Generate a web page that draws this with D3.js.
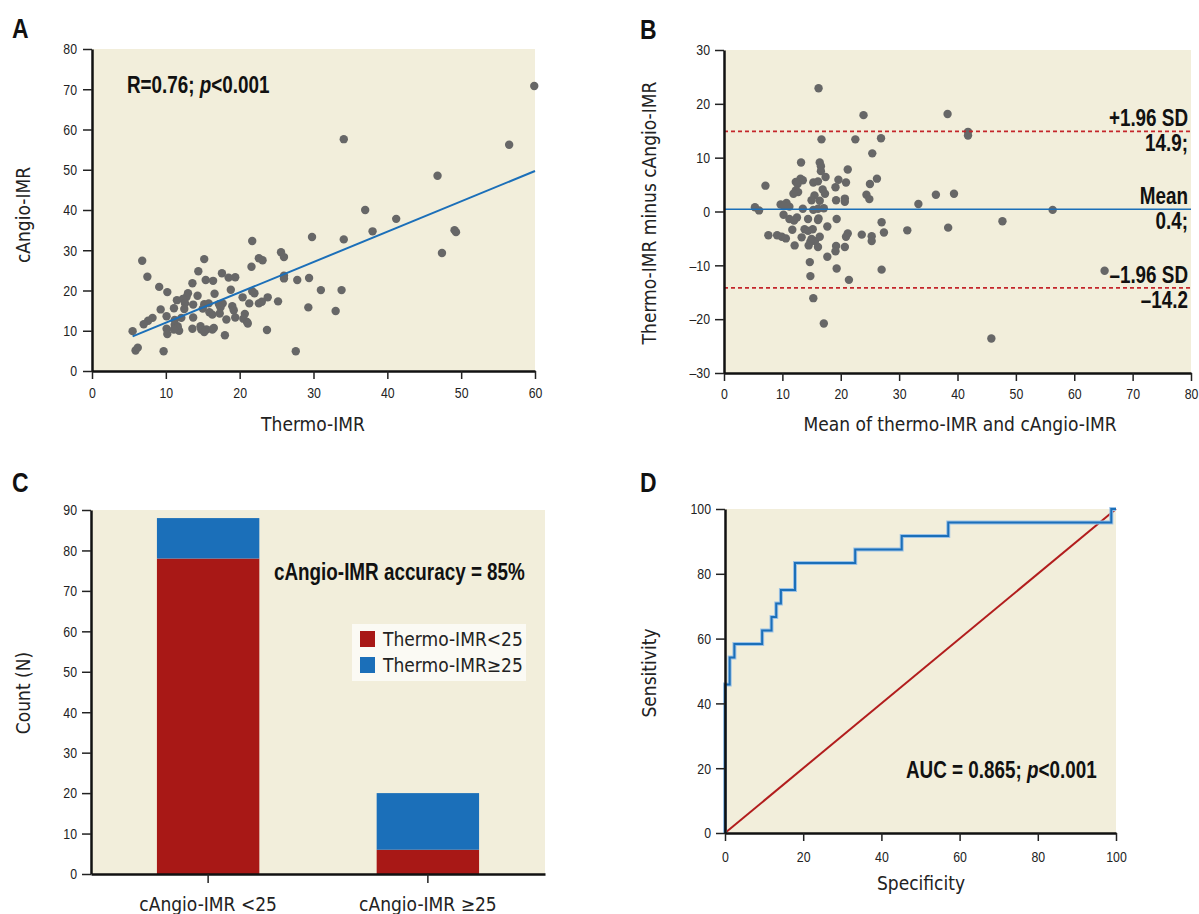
<!DOCTYPE html>
<html>
<head>
<meta charset="utf-8">
<script src="https://cdn.jsdelivr.net/npm/d3@7"></script>
<style>
  body { margin: 0; background: #fff; }
  .tick text { font-family: "Liberation Sans Narrow", "Liberation Sans", sans-serif; font-size: 15px; fill: #222; }
  .tick line { stroke: #222; stroke-width: 1.5; }
  .domain { stroke: #111; stroke-width: 2.5; }
  .lbl, .tick text.lbl { font-family: "DejaVu Sans Condensed", "DejaVu Sans", sans-serif; font-stretch: condensed; font-size: 19px; fill: #222; }
  .bold { font-family: "Liberation Sans", sans-serif; font-weight: bold; font-size: 23px; fill: #111; }
  .letter { font-family: "Liberation Sans", sans-serif; font-weight: bold; font-size: 28px; fill: #111; }
</style>
</head>
<body>
<div id="chart"></div>
<script>
// A: thermo-IMR vs cAngio-IMR
const scatterA = [[59.9,70.8],[34.1,57.6],[56.5,56.2],[46.8,48.5],[37.0,40.0],[41.2,37.8],[38.0,34.7],[49.1,35.0],[49.3,34.5],[29.8,33.3],[34.1,32.7],[21.7,32.3],[47.4,29.3],[25.6,29.5],[26.0,28.3],[22.6,28.0],[23.1,27.5],[6.8,27.4],[15.2,27.8],[21.6,25.9],[14.4,24.8],[7.5,23.4],[17.6,24.3],[18.5,23.2],[19.4,23.3],[26.0,23.7],[26.0,23.0],[27.8,22.6],[29.4,23.1],[15.4,22.6],[16.4,22.4],[13.6,21.8],[9.1,20.9],[18.8,20.2],[31.0,20.1],[33.8,20.1],[10.2,19.6],[21.7,19.8],[22.0,19.3],[13.0,19.3],[16.6,19.2],[14.3,18.7],[12.8,18.4],[20.4,18.3],[23.8,18.3],[11.5,17.6],[12.3,17.9],[25.2,17.3],[21.3,16.8],[22.6,16.8],[23.0,17.2],[15.2,16.6],[15.8,16.8],[17.2,16.6],[17.7,16.8],[12.6,16.8],[13.7,16.5],[19.0,16.1],[11.1,15.6],[9.3,15.3],[12.5,15.4],[15.0,15.5],[17.4,15.8],[19.2,15.1],[29.3,15.8],[33.0,14.9],[15.9,14.6],[17.3,14.3],[16.3,14.0],[20.7,14.2],[13.7,13.3],[10.1,13.6],[12.1,13.2],[19.4,13.3],[8.2,13.2],[7.6,12.5],[7.0,11.6],[20.5,13.0],[18.2,12.8],[21.0,12.2],[21.1,11.8],[11.2,12.7],[11.2,11.5],[11.6,11.1],[10.1,10.5],[13.6,10.5],[14.7,11.1],[14.8,10.3],[15.5,10.3],[15.2,9.7],[16.3,10.3],[16.5,10.7],[23.7,10.2],[5.5,9.9],[11.8,10.0],[11.6,10.7],[10.2,9.2],[18.0,8.9],[5.9,5.1],[6.2,5.8],[9.7,4.9],[27.6,4.9],[11.1,10.3]];
const fitA = { slope: 0.754, intercept: 4.45, from: 5.5, to: 60 };

// B: Bland-Altman
const scatterB = [[16.2,22.9],[23.9,17.9],[38.3,18.1],[41.8,14.8],[41.8,14.1],[16.7,13.4],[22.5,13.4],[26.9,13.6],[25.4,10.8],[13.2,9.1],[16.4,9.1],[16.6,8.4],[16.6,7.5],[21.2,7.8],[7.1,4.8],[17.4,6.4],[26.2,6.1],[19.6,5.9],[20.9,5.4],[15.3,5.4],[16.1,5.6],[12.3,5.5],[13.1,6.1],[13.5,5.8],[12.6,5.1],[25.0,5.1],[19.1,4.5],[16.9,4.1],[17.3,3.3],[12.3,3.9],[12.7,3.6],[11.9,3.3],[15.5,3.0],[24.4,3.1],[24.9,2.3],[36.3,3.1],[39.4,3.3],[15.0,2.1],[16.4,2.0],[19.2,2.1],[20.7,2.4],[20.7,1.8],[33.3,1.4],[9.7,1.3],[10.7,1.6],[11.2,0.9],[10.2,1.1],[13.5,0.5],[15.3,0.3],[17.1,0.6],[16.1,0.5],[5.3,0.8],[6.0,0.2],[56.3,0.3],[10.2,-0.6],[11.2,-1.4],[12.5,-1.1],[12.0,-1.7],[14.4,-1.4],[16.2,-1.3],[16.1,-1.6],[19.3,-1.4],[27.0,-2.0],[47.7,-1.8],[17.7,-2.8],[11.7,-3.4],[13.8,-3.3],[14.4,-3.6],[15.2,-3.3],[31.4,-3.5],[38.4,-3.0],[27.4,-3.9],[21.2,-4.1],[23.6,-4.3],[25.3,-4.6],[25.3,-5.5],[7.6,-4.4],[9.1,-4.4],[9.9,-4.7],[10.6,-5.0],[13.3,-4.8],[15.0,-5.1],[15.6,-5.5],[14.8,-5.6],[16.4,-4.7],[20.9,-4.7],[14.5,-6.3],[12.1,-6.3],[16.1,-6.6],[19.2,-6.4],[20.7,-6.6],[19.1,-7.4],[17.7,-8.4],[14.7,-9.4],[19.3,-10.6],[27.0,-10.8],[65.2,-11.0],[21.4,-12.7],[14.8,-12.0],[15.3,-16.1],[17.1,-20.8],[45.8,-23.6]];
const limitsB = [14.9, 0.4, -14.2];
const limitLabels = [["+1.96 SD", "14.9;"], ["Mean", "0.4;"], ["\u20131.96 SD", "\u201314.2"]];

// C: stacked counts
const groupsC = ["cAngio-IMR <25", "cAngio-IMR \u226525"];
const seriesC = ["Thermo-IMR<25", "Thermo-IMR\u226525"];
const lowThermo = [78, 6];
const highThermo = [10, 14];

// D: ROC
const rocSpec = [0, 0, 1.2, 2.4, 9.5, 11.9, 13.1, 14.3, 17.9, 33.3, 45.2, 57.1, 98.8, 100];
const rocSens = [0, 45.8, 54.2, 58.3, 62.5, 66.7, 70.8, 75.0, 83.3, 87.5, 91.7, 95.8, 100, 100];

const bg = "#f2eedb", dot = "#676767", blue = "#1b6fb9", red = "#a81816";
const squeeze = 0.82; // no narrow bold face installed

const svg = d3.select("#chart").append("svg")
  .attr("width", 1199).attr("height", 914);

function axes(g, x, y, xt, yt, o) {
  const fmt = d => d < 0 ? "\u2013" + Math.abs(d) : d;
  g.append("g").attr("transform", `translate(0,${y.range()[0]})`)
    .call(d3.axisBottom(x).tickValues(xt).tickSize(8).tickSizeOuter(0).tickPadding(o.xp).tickFormat(fmt));
  g.append("g").attr("transform", `translate(${x.range()[0]},0)`)
    .call(d3.axisLeft(y).tickValues(yt).tickSize(9).tickSizeOuter(0).tickPadding(o.yp).tickFormat(fmt));
}

function plotBg(g, x, y) {
  g.append("rect")
    .attr("x", x.range()[0]).attr("y", y.range()[1])
    .attr("width", x.range()[1] - x.range()[0]).attr("height", y.range()[0] - y.range()[1])
    .attr("fill", bg);
}

function text(g, cls, x, y, s, anchor, rot) {
  const t = g.append("text").attr("class", cls).attr("text-anchor", anchor || "start").text(s);
  if (rot) t.attr("transform", `translate(${x},${y}) rotate(-90)`);
  else if (cls !== "lbl") t.attr("transform", `translate(${x},${y}) scale(${squeeze},1)`);
  else t.attr("x", x).attr("y", y);
  return t;
}

function pText(g, x, y, pre) {
  const t = text(g, "bold", x, y, pre);
  t.append("tspan").attr("font-style", "italic").text("p");
  t.append("tspan").text("<0.001");
}

// ---- Panel A
{
  const g = svg.append("g");
  const x = d3.scaleLinear().domain([0, 60]).range([92, 535]);
  const y = d3.scaleLinear().domain([0, 80]).range([371, 49]);
  plotBg(g, x, y);
  g.selectAll("circle").data(scatterA).enter().append("circle")
    .attr("cx", d => x(d[0])).attr("cy", d => y(d[1])).attr("r", 4.2).attr("fill", dot);
  g.append("line")
    .attr("x1", x(fitA.from)).attr("y1", y(fitA.intercept + fitA.slope * fitA.from))
    .attr("x2", x(fitA.to)).attr("y2", y(fitA.intercept + fitA.slope * fitA.to))
    .attr("stroke", blue).attr("stroke-width", 2);
  axes(g, x, y, d3.range(0, 61, 10), d3.range(0, 81, 10), { xp: 8, yp: 6 });
  text(g, "letter", 12, 38, "A");
  pText(g, 127, 93, "R=0.76; ");
  text(g, "lbl", 313, 431, "Thermo-IMR", "middle");
  text(g, "lbl", 30, 215, "cAngio-IMR", "middle", true);
}

// ---- Panel B
{
  const g = svg.append("g");
  const x = d3.scaleLinear().domain([0, 80]).range([724, 1191]);
  const y = d3.scaleLinear().domain([-30, 30]).range([373, 50]);
  plotBg(g, x, y);
  g.selectAll("circle").data(scatterB).enter().append("circle")
    .attr("cx", d => x(d[0])).attr("cy", d => y(d[1])).attr("r", 4.2).attr("fill", dot);
  g.selectAll(".lim").data(limitsB).enter().append("line")
    .attr("x1", x(0)).attr("x2", x(80))
    .attr("y1", d => y(d)).attr("y2", d => y(d))
    .attr("stroke", (d, i) => i === 1 ? blue : "#c4262b")
    .attr("stroke-width", (d, i) => i === 1 ? 1.5 : 1.8)
    .attr("stroke-dasharray", (d, i) => i === 1 ? null : "4,3");
  const base = [126, 204, 283];
  limitLabels.forEach((l, i) => {
    text(g, "bold", 1188, base[i], l[0], "end");
    text(g, "bold", 1188, base[i] + 25, l[1], "end");
  });
  axes(g, x, y, d3.range(0, 81, 10), d3.range(-30, 31, 10), { xp: 7, yp: 5 });
  text(g, "letter", 640, 39, "B");
  text(g, "lbl", 960, 431, "Mean of thermo-IMR and cAngio-IMR", "middle");
  text(g, "lbl", 656, 213, "Thermo-IMR minus cAngio-IMR", "middle", true);
}

// ---- Panel C
{
  const g = svg.append("g");
  const x = d3.scaleBand().domain(groupsC).range([91, 545]).paddingInner(0.534).paddingOuter(0.3);
  const y = d3.scaleLinear().domain([0, 90]).range([874, 510]);
  plotBg(g, x, y);
  const rows = groupsC.map((c, i) => ({ group: c, low: lowThermo[i], high: highThermo[i] }));
  const stack = d3.stack().keys(["low", "high"])(rows);
  const col = [red, blue];
  g.selectAll(".s").data(stack).enter().append("g").attr("fill", (d, i) => col[i])
    .selectAll("rect").data(d => d).enter().append("rect")
    .attr("x", d => x(d.data.group)).attr("width", x.bandwidth())
    .attr("y", d => y(d[1])).attr("height", d => y(d[0]) - y(d[1]));
  g.append("g").attr("transform", "translate(0,874)")
    .call(d3.axisBottom(x).tickSize(9).tickSizeOuter(0))
    .call(a => a.selectAll("text").attr("class", "lbl").attr("y", 37).attr("dy", 0));
  g.append("g").attr("transform", "translate(91,0)")
    .call(d3.axisLeft(y).tickValues(d3.range(0, 91, 10)).tickSize(9).tickSizeOuter(0).tickPadding(5));
  // legend
  g.append("rect").attr("x", 352).attr("y", 624).attr("width", 174).attr("height", 57).attr("fill", "#fbfaf4");
  seriesC.forEach((s, i) => {
    g.append("rect").attr("x", 360).attr("y", 631 + i * 26).attr("width", 15).attr("height", 16).attr("fill", col[i]);
    text(g, "lbl", 383, 646 + i * 26, s);
  });
  text(g, "letter", 12, 492, "C");
  text(g, "bold", 274, 580, "cAngio-IMR accuracy = 85%");
  text(g, "lbl", 30, 693, "Count (N)", "middle", true);
}

// ---- Panel D
{
  const g = svg.append("g");
  const x = d3.scaleLinear().domain([0, 100]).range([725, 1116]);
  const y = d3.scaleLinear().domain([0, 100]).range([833, 509]);
  plotBg(g, x, y);
  g.append("line")
    .attr("x1", x(0)).attr("y1", y(0)).attr("x2", x(100)).attr("y2", y(100))
    .attr("stroke", "#b21d1d").attr("stroke-width", 2);
  const roc = rocSpec.map((s, i) => [s, rocSens[i]]);
  const line = d3.line().x(d => x(d[0])).y(d => y(d[1])).curve(d3.curveStepAfter);
  g.append("path").attr("d", line(roc)).attr("fill", "none")
    .attr("stroke", "#9cc2e6").attr("stroke-width", 4);
  g.append("path").attr("d", line(roc)).attr("fill", "none")
    .attr("stroke", blue).attr("stroke-width", 2);
  axes(g, x, y, d3.range(0, 101, 20), d3.range(0, 101, 20), { xp: 10, yp: 5 });
  text(g, "letter", 640, 492, "D");
  pText(g, 906, 778, "AUC = 0.865; ");
  text(g, "lbl", 921, 890, "Specificity", "middle");
  text(g, "lbl", 656, 673, "Sensitivity", "middle", true);
}

// tick numbers are narrower in the original
svg.selectAll(".tick text:not(.lbl)").each(function () {
  const w = this.getComputedTextLength();
  d3.select(this).attr("textLength", w * squeeze).attr("lengthAdjust", "spacingAndGlyphs");
});
</script>
</body>
</html>
